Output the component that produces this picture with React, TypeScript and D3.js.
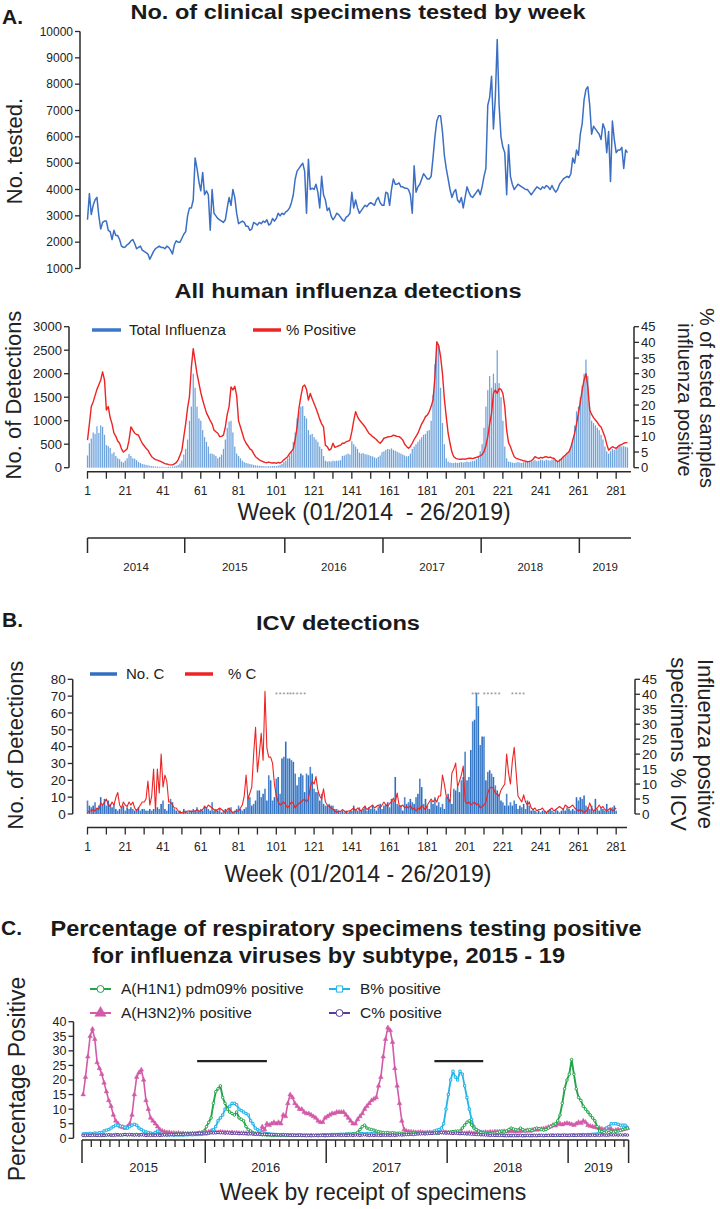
import React from "react";
import * as d3 from "d3";

// ---------- Panel A: No. of clinical specimens tested by week (weeks 1..287) ----------
const tested = [
  2850, 3850, 3050, 3400, 3600, 3700, 3000, 2500, 2750, 2800,
  2800, 2450, 2400, 2100, 2450, 2250, 2250, 2100, 1850, 1800,
  1820, 1900, 1950, 2050, 2100, 1950, 1750, 1800, 1850, 1700,
  1650, 1600, 1550, 1350, 1500, 1650, 1750, 1800, 1850, 1800,
  1800, 1750, 1850, 1800, 1700, 1550, 1900, 2050, 2000, 2000,
  2150, 2300, 2400, 3000, 3300, 3300, 3600, 5200, 4800, 4300,
  3950, 4650, 3800, 3950, 3800, 2450, 4000, 3100, 3000, 2900,
  2850, 2800, 2750, 2850, 3300, 3700, 3400, 4000, 3700, 3100,
  2700, 2750, 2800, 2750, 2600, 2600, 2450, 2500, 2750, 2700,
  2650, 2750, 2700, 2800, 2750, 2850, 2650, 2700, 2900, 2800,
  2900, 3100, 3000, 3100, 3050, 3150, 3200, 3300, 3500, 3800,
  4400, 4700, 4800, 4900, 5000, 4700, 3100, 5150, 4000, 4050,
  4000, 4200, 3900, 3300, 4500, 3800, 3600, 3200, 3300, 3000,
  2850, 2950, 3100, 3050, 2950, 2850, 2800, 2950, 3000, 3100,
  3900, 3300, 3600, 3300, 3100, 3200, 3300, 3400, 3350, 3450,
  3500, 3450, 3400, 3600, 3700, 3500, 3400, 3400, 3900, 3850,
  3400, 4000, 4400, 4200, 4200, 4250, 4100, 4100, 4050, 4050,
  4000, 3800, 3100, 4900, 3900, 4100, 4200, 4400, 4600, 4500,
  4400, 4400, 4500, 5200, 6000, 6600, 6800, 6800, 6200, 5300,
  4800, 4400, 4000, 3700, 3900, 4000, 3600, 3500, 3700, 3300,
  3700, 4100, 3900, 3750, 3700, 3800, 3900, 4000, 3800, 4100,
  4500, 4800, 7200, 7500, 8300, 6300, 7500, 9700, 7200, 6000,
  5600, 5400, 3800, 5700, 4500, 4200, 4000, 4100, 4200, 4150,
  4100, 4050, 4000, 4000, 3900, 3800, 3900, 4000, 4100, 4050,
  4000, 4100, 4050, 4150, 4100, 4000, 4150, 4000, 3900, 4000,
  4200, 4300, 4400, 4450, 4500, 4450, 4600, 5200, 5000, 5500,
  5300, 6100, 6500, 7400, 7800, 7900, 7200, 6100, 6400, 6300,
  6200, 6100, 5900, 6500, 6300, 5400, 6200, 4300, 6600, 5900,
  5400, 5500, 5500, 5600, 4800, 5500, 5400,
];

// ---------- Panel A2: All human influenza detections ----------
const totalInfluenza = [
  260, 520, 620, 750, 720, 880, 740, 900, 870, 700,
  480, 460, 420, 300, 330, 250, 200, 180, 130, 110,
  150, 200, 290, 250, 200, 190, 160, 120, 100, 80,
  70, 60, 50, 40, 35, 30, 25, 25, 20, 20,
  20, 15, 15, 20, 20, 25, 30, 40, 60, 90,
  150, 280, 400, 600, 1000, 1300, 2000, 1700, 1300, 1050,
  1000, 800, 650, 550, 450, 300, 300, 280, 250, 200,
  230, 280, 400, 600, 850, 980, 1000, 750, 450, 300,
  250, 200, 150, 120, 100, 90, 80, 70, 60, 50,
  45, 40, 40, 35, 30, 30, 35, 30, 35, 40,
  35, 45, 60, 80, 120, 150, 200, 260, 350, 550,
  750, 1050, 1200, 1300, 1310, 1100, 1050, 800, 700, 720,
  650, 600, 550, 450, 400, 250, 150, 130, 140, 130,
  150, 140, 150, 150, 160, 250, 260, 280, 300, 280,
  560, 500, 450, 400, 320, 300, 310, 290, 280, 270,
  250, 240, 220, 200, 230, 260, 330, 350, 380, 400,
  390, 410, 380, 360, 340, 320, 300, 280, 260, 240,
  250, 300, 400, 450, 500, 550, 600, 650, 700, 720,
  780, 800, 1000, 1550, 2200, 2650, 2600, 1700, 950, 500,
  200, 130, 110, 100, 100, 110, 100, 110, 120, 110,
  120, 130, 120, 130, 140, 150, 180, 250, 350, 500,
  850, 1300, 1650, 1950, 1700, 2000, 1800, 2500, 1800, 1500,
  1000, 450, 200, 130, 120, 110, 100, 110, 120, 110,
  100, 120, 130, 120, 140, 130, 150, 160, 140, 150,
  170, 160, 150, 170, 160, 150, 170, 180, 160, 140,
  180, 200, 220, 260, 300, 350, 450, 600, 900, 1200,
  1300, 1500, 1750, 2000, 2300, 1950, 1300, 1000, 950, 900,
  850, 800, 700, 600, 450, 350, 300, 350, 400, 380,
  420, 450, 480, 450, 460, 440, 430,
];

const percentPositive = [
  8.8, 14, 19.5, 21, 23, 25, 26.5, 28, 30.6, 28,
  18.4, 19.5, 16, 14, 11, 10, 8.5, 7.8, 6, 5,
  5.5, 6, 8.8, 13, 12, 11, 10.6, 10.4, 9, 7.8,
  7, 6.2, 5.6, 4.5, 3.5, 3, 2.6, 2.4, 2.2, 1.9,
  1.6, 1.3, 1.2, 1, 0.9, 0.9, 1.2, 1.6, 2.5, 4,
  5.6, 9.9, 14, 19, 22.7, 32, 38, 34, 30, 27,
  24, 21.6, 19.5, 17.5, 16.3, 15, 14, 12, 11.5, 11,
  9.9, 10, 10.4, 13, 17, 19.5, 25.8, 24.8, 26, 23,
  15, 13, 11, 9, 7.8, 7, 6, 5.6, 4.5, 3.5,
  3, 2.5, 2.2, 1.9, 1.7, 1.6, 1.8, 1.6, 1.5, 1.6,
  1.4, 1.7, 1.5, 1.9, 2.5, 3, 3.5, 4.5, 5.2, 6,
  9, 13, 19, 22.7, 25.8, 26.4, 25, 21.6, 23.7, 22,
  20.5, 19, 17.3, 15.5, 14, 13, 7.2, 6.7, 5.6, 6,
  7.8, 6.5, 6.7, 7, 7.2, 7.8, 7.8, 8.3, 8.5, 8.8,
  11.5, 15, 17.9, 16.3, 15.2, 14.5, 13.8, 13, 12, 11,
  10.5, 9.9, 9.5, 9, 8.3, 7.8, 8.5, 9.4, 9.6, 9.8,
  9.9, 10, 10.4, 10.2, 10, 9.9, 9.5, 8.8, 7.5, 6.8,
  6.2, 6.8, 7.8, 9, 10, 11, 12.5, 14, 15, 16.3,
  16.8, 17.9, 19.5, 21.6, 29, 40.2, 39, 35.5, 30, 22,
  16.3, 11, 7.8, 5, 3.5, 3, 2.8, 2.7, 2.7, 2.8,
  2.7, 2.9, 3, 3, 2.9, 3.1, 3.3, 3.5, 3.8, 4.2,
  5.1, 7, 9.9, 14, 17.3, 23.7, 24.8, 23.7, 25.3, 25,
  23.7, 19.5, 12, 8, 6.7, 5, 3.5, 3, 2.8, 2.6,
  2.4, 2.2, 2.1, 1.9, 2, 2.2, 2.7, 3.5, 3.2, 3,
  3.3, 3.1, 3.4, 3.5, 3.2, 3.4, 3.1, 3, 2.4, 1.9,
  2.3, 2.8, 3.5, 4, 4.6, 5.1, 6.5, 8.8, 11, 14,
  17.3, 21, 24.8, 28, 30, 25.8, 18.4, 17, 16, 15.2,
  14.5, 13.5, 13, 11.5, 9.9, 7.5, 5.6, 6.2, 6.7, 6.4,
  6.2, 6.8, 7.2, 7.4, 7.8, 8, 8,
];

// ---------- Panel B: ICV detections (weeks 1..281) ----------
const numberC = [
  8, 5, 4, 5, 7, 3, 5, 10, 6, 9,
  5, 8, 6, 4, 6, 3, 2, 3, 4, 5,
  2, 4, 3, 4, 3, 2, 3, 4, 2, 3,
  3, 2, 2, 3, 2, 3, 2, 4, 3, 6,
  8, 3, 2, 6, 9, 7, 3, 2, 1, 2,
  1, 3, 2, 1, 2, 2, 3, 2, 4, 2,
  3, 2, 5, 4, 3, 2, 7, 2, 3, 2,
  3, 1, 2, 3, 2, 3, 4, 1, 2, 3,
  5, 3, 2, 3, 4, 10, 10, 5, 6, 8,
  14, 14, 10, 12, 15, 8, 23, 20, 8, 10,
  21, 22, 12, 33, 34, 43, 33, 33, 32, 31,
  24, 17, 22, 24, 23, 13, 24, 23, 28, 24,
  15, 13, 13, 8, 12, 6, 5, 5, 6, 5,
  5, 3, 3, 2, 1, 2, 1, 2, 1, 2,
  2, 5, 3, 2, 4, 2, 3, 5, 2, 4,
  3, 5, 3, 2, 4, 6, 3, 5, 6, 7,
  4, 9, 8, 22, 6, 5, 5, 2, 10, 6,
  7, 9, 7, 6, 10, 12, 21, 16, 6, 9,
  5, 3, 8, 6, 10, 5, 7, 4, 6, 3,
  10, 12, 9, 6, 15, 14, 16, 13, 20, 22,
  37, 20, 22, 38, 55, 56, 72, 64, 41, 46,
  46, 20, 25, 26, 24, 22, 17, 14, 12, 8,
  7, 5, 12, 5, 7, 5, 8, 6, 3, 5,
  4, 6, 3, 8, 5, 2, 3, 2, 1, 2,
  1, 2, 2, 1, 2, 3, 2, 1, 3, 2,
  1, 2, 3, 2, 4, 3, 2, 3, 2, 10,
  8, 10, 9, 11, 5, 4, 3, 5, 2, 9,
  3, 2, 4, 3, 2, 6, 2, 3, 4, 5,
  2,
];

const percentC = [
  0.5, 1, 1, 1.5, 1, 2, 1.5, 3.7, 3, 4,
  5, 3, 2.5, 4, 3, 5.5, 7.2, 3, 2, 4,
  3, 2.5, 4, 3, 4, 2, 1, 2, 3, 4,
  4, 5, 11, 3, 6, 15, 1, 15, 7, 20,
  9, 13, 11, 4, 4, 3, 2, 2, 1, 0.5,
  0.5, 0.8, 0.5, 1, 1, 0.8, 1, 1, 1.5, 1,
  1, 1.5, 2.5, 2, 3, 2.5, 2, 1.5, 1, 1.5,
  2, 1.5, 1, 0.5, 1.5, 2, 1, 0.5, 0.8, 1,
  1, 2, 3, 6, 13, 5, 7, 9, 20, 29,
  14, 20, 27, 18, 41, 22, 19, 19, 17, 10,
  6, 4, 3, 3.5, 4, 3, 2, 3, 4, 3.5,
  2, 3, 3.5, 4, 4.5, 5, 4, 5, 9, 11,
  10, 12.5, 8, 6, 5, 8.4, 4, 3, 2.5, 2,
  1.5, 1, 0.5, 1, 0.8, 1.5, 1, 0.5, 1, 1,
  1.5, 2, 1, 2, 1.5, 1, 2, 2.5, 1.5, 2,
  2.5, 3, 2, 2.5, 3, 2, 3, 4, 3, 2.5,
  3.5, 4, 5.3, 4, 7, 3, 2.5, 3, 2, 2.5,
  2, 3, 1.5, 2, 1, 2, 1.5, 3, 2, 1.5,
  3, 4, 5, 4, 5, 4, 6, 6, 13, 10,
  6, 5, 4, 13.7, 15, 17, 9, 11, 13, 16,
  4.2, 3.5, 4, 3, 3.5, 4, 3, 3.5, 2, 2.5,
  3, 4, 7, 8.7, 9, 8.5, 7, 6.5, 6, 8,
  9, 10, 20, 13.7, 10, 17.6, 22.3, 14, 6, 5,
  4, 6.4, 4, 3, 4, 2, 1.5, 2, 1, 1.5,
  1.5, 2, 1, 0.5, 1, 1.5, 2, 1, 1.5, 2,
  2.5, 2, 1.5, 3, 2.5, 2, 2.5, 3, 2, 1.5,
  1, 1.5, 1, 0.5, 1, 1.5, 3.7, 2, 1, 1.5,
  2, 3, 2, 2.5, 1.5, 1, 1.5, 2, 1, 1.5,
  2,
];

// weeks flagged with asterisks above the ICV bars
const asteriskWeeks = [101, 103, 105, 107, 108.5, 110, 112, 114, 116, 205, 206.5, 208, 211, 213, 215, 217, 219, 226, 228, 230, 232];
const asteriskLevel = 72; // in "No. of detections" units

// ---------- Panel C: % positive by subtype, 2015-2019 (weeks 1..235) ----------
const h1n1 = [
  1, 1, 1.1, 1, 1.2, 1.1, 1, 1.1, 1, 1.2,
  1.1, 1.2, 1.1, 1.2, 1.3, 1.2, 1.1, 1.2, 1.3, 1.2,
  1.2, 1.3, 1.2, 1.3, 1.2, 1.3, 1.4, 1.3, 1.2, 1.3,
  1.2, 1.3, 1.4, 1.3, 1.2, 1.3, 1.4, 1.3, 1.4, 1.5,
  1.4, 1.5, 1.4, 1.5, 1.6, 1.5, 1.6, 1.7, 1.8, 1.8,
  2, 2, 2.5, 4, 5.5, 7, 12, 16, 17, 18,
  14, 12, 10, 9, 8.5, 8, 9, 7, 6.5, 6,
  4, 3, 2.5, 2, 1.5, 1.4, 1.3, 1.2, 1.2, 1.1,
  1.1, 1, 1, 1.1, 1, 1, 1.1, 1, 1, 1.1,
  1, 1, 1, 1.1, 1, 1, 1.1, 1, 1.1, 1,
  1.1, 1, 1.1, 1.2, 1.1, 1.2, 1.1, 1.2, 1.3, 1.2,
  1.3, 1.2, 1.3, 1.4, 1.3, 1.4, 1.5, 1.6, 2, 3,
  4, 4.5, 3.5, 3.2, 3, 2.8, 2.5, 2.3, 2.1, 2,
  1.9, 2, 1.8, 1.9, 1.8, 1.7, 1.8, 1.7, 1.8, 1.9,
  1.8, 1.9, 1.8, 1.7, 1.8, 1.9, 1.8, 1.7, 1.8, 1.7,
  1.8, 1.9, 1.7, 1.8, 2, 1.9, 2, 2.1, 2.2, 2.3,
  2.4, 2.5, 2.5, 3.5, 4.5, 5.5, 6, 4.5, 3.5, 3,
  2.5, 2, 1.8, 1.6, 1.5, 1.6, 1.7, 1.8, 2, 2.2,
  2.5, 2.2, 2.5, 3, 3.5, 3.2, 3, 2.8, 3.5, 3,
  2.5, 2.8, 3, 2.6, 3.2, 3.5, 3.3, 3, 2.8, 3,
  3.5, 4, 4.5, 5, 6, 8, 12, 17, 20, 22,
  27, 22, 17, 14, 13, 11, 10, 9, 8, 7,
  6, 4, 2.5, 2.3, 2, 2.2, 2, 2.3, 2.1, 2.4,
  2.5, 2.7, 3, 3.2, 3.5,
];

const h3n2 = [
  15, 21, 28, 35, 37.5, 34, 26, 24, 22, 19,
  16, 13, 11, 8, 6, 5, 4, 3.8, 3.5, 4,
  5, 8, 15, 21, 22.5, 23.5, 20, 13, 10, 7,
  6, 5, 4, 3, 2.5, 2.2, 2, 2, 1.8, 1.8,
  1.7, 1.8, 1.6, 1.7, 1.5, 1.6, 1.5, 1.6, 1.5, 1.6,
  1.7, 1.8, 1.9, 2, 2.2, 2.5, 2.3, 2.1, 2, 2.2,
  2.1, 2, 2, 1.9, 2, 1.8, 1.9, 1.8, 1.7, 1.8,
  1.7, 1.6, 1.7, 1.6, 1.5, 1.6, 1.8, 4, 3, 5,
  4.5, 5, 5.5, 5, 5.5, 5, 8, 7.5, 12, 15,
  14, 12, 11, 10, 10, 9, 8.5, 8.5, 8, 7.5,
  7, 6, 5.5, 5.5, 7, 7.5, 8, 8.5, 8.5, 9,
  9, 9, 9, 8, 7, 6, 5, 5, 6.5, 7.5,
  8.5, 10, 11, 12, 13, 13.5, 14, 18, 21, 28,
  34, 38, 37, 33, 24, 18, 12, 6, 3, 2.5,
  2.3, 2.2, 2.1, 2, 2, 2.1, 2, 1.9, 2, 2,
  1.9, 2, 2, 2.1, 2, 2.2, 2, 1.9, 1.8, 1.9,
  2, 1.9, 1.8, 1.8, 1.7, 1.8, 1.9, 1.8, 1.7, 1.8,
  1.9, 2, 2, 2.1, 2, 2.2, 2.1, 2.3, 2.2, 2.3,
  2.2, 2.4, 2.3, 2.5, 2.4, 2.5, 2.3, 2.5, 2.4, 2.6,
  2.5, 2.7, 2.5, 2.8, 3, 2.9, 3, 3.2, 3.3, 3.5,
  3.8, 4, 4.5, 4.3, 4.8, 5, 4.7, 5, 5.2, 5,
  4.8, 4.5, 5, 5.5, 5.2, 6, 5.5, 4.5, 4.2, 4,
  3.8, 3.6, 3.5, 3.2, 3, 3.3, 3.5, 3.2, 2.5, 2.8,
  3, 2.8, 3, 3.2, 3.5,
];

const bPositive = [
  1.5, 1.6, 1.5, 1.7, 1.6, 1.8, 1.7, 1.9, 2, 2.5,
  2.8, 3, 3.5, 4, 4.5, 4.5, 4.2, 4, 3.8, 3.5,
  4, 4.5, 4.8, 4.5, 3.5, 3, 2.5, 2.2, 2, 1.8,
  1.5, 2, 2.5, 1.5, 1.3, 1.2, 1.3, 1.2, 1.2, 1.1,
  1.2, 1.1, 1.2, 1.1, 1.2, 1.2, 1.3, 1.2, 1.3, 1.3,
  1.3, 1.4, 1.5, 1.5, 1.8, 2, 3, 4, 6, 7,
  8, 10, 10.5, 11, 12, 12, 11.5, 10, 9.5, 9,
  8.5, 8, 6, 5, 3.5, 3, 2.5, 2, 1.8, 1.6,
  1.5, 1.4, 1.3, 1.3, 1.2, 1.2, 1.3, 1.2, 1.2, 1.1,
  1.2, 1.1, 1.1, 1.2, 1.1, 1, 1.1, 1, 1.1, 1,
  1, 1.1, 1, 1.1, 1.2, 1.1, 1.2, 1.3, 1.2, 1.3,
  1.3, 1.4, 1.3, 1.4, 1.5, 1.4, 1.5, 1.4, 1.5, 1.6,
  1.6, 1.5, 1.6, 1.5, 1.6, 1.7, 1.6, 1.7, 1.6, 1.5,
  1.5, 1.6, 1.5, 1.4, 1.5, 1.4, 1.5, 1.6, 1.5, 1.6,
  1.6, 1.7, 1.6, 1.7, 1.8, 1.7, 1.8, 1.8, 1.9, 2,
  2, 2.5, 2.8, 3, 3.5, 5, 10, 15, 20, 23,
  21, 20, 23, 22, 18, 14, 10, 6.5, 4, 3,
  2.5, 2.2, 2, 1.7, 1.5, 1.3, 1.2, 1.1, 1.1, 1,
  1, 0.9, 1, 0.9, 0.9, 1, 0.9, 0.9, 1, 0.9,
  0.9, 1, 0.9, 1, 1, 0.9, 1, 1, 0.9, 1,
  1, 1, 1.1, 1, 1.1, 1, 1.1, 1.1, 1, 1.1,
  1.1, 1.2, 1.1, 1.2, 1.2, 1.3, 1.2, 1.3, 1.3, 1.4,
  1.4, 1.5, 1.5, 2, 2.5, 3.5, 4, 5, 5, 5,
  4.8, 4.5, 4.5, 4.5, 3.5,
];

const cPositive = [
  1, 1, 1.1, 1, 1, 1.1, 1, 1, 1.1, 1,
  1.1, 1.2, 1.1, 1, 1.1, 1.2, 1.1, 1.2, 1.3, 1.2,
  1.3, 1.2, 1.1, 1.2, 1.1, 1.2, 1.1, 1, 1.1, 1,
  1.1, 1, 1.1, 1, 1.1, 1.2, 1.1, 1.2, 1.3, 1.2,
  1.3, 1.4, 1.3, 1.4, 1.5, 1.4, 1.5, 1.6, 1.5, 1.6,
  1.7, 1.6, 1.8, 1.7, 1.8, 1.9, 1.8, 1.9, 2, 1.9,
  1.9, 1.8, 1.9, 1.8, 1.7, 1.8, 1.7, 1.6, 1.7, 1.6,
  1.6, 1.5, 1.6, 1.5, 1.4, 1.5, 1.4, 1.3, 1.4, 1.3,
  1.3, 1.2, 1.3, 1.2, 1.2, 1.1, 1.2, 1.1, 1.1, 1,
  1.1, 1, 1, 1.1, 1, 1, 0.9, 1, 0.9, 1,
  1, 0.9, 1, 1, 0.9, 1, 1, 1.1, 1, 1.1,
  1.1, 1, 1.1, 1, 1, 1.1, 1, 1.1, 1.1, 1,
  1.1, 1.2, 1.1, 1, 1.1, 1, 1.1, 1, 1, 1.1,
  1, 1.1, 1, 1.1, 1, 1.1, 1.2, 1.1, 1.2, 1.3,
  1.3, 1.4, 1.3, 1.4, 1.5, 1.5, 1.6, 1.5, 1.6, 1.7,
  1.7, 1.8, 1.9, 1.8, 2, 1.9, 1.8, 1.9, 1.8, 1.7,
  1.8, 1.7, 1.6, 1.7, 1.6, 1.5, 1.5, 1.4, 1.4, 1.3,
  1.3, 1.2, 1.2, 1.1, 1.1, 1, 1.1, 1, 1, 1,
  1, 1, 0.9, 1, 1, 0.9, 1, 1, 1, 0.9,
  1, 1, 1, 0.9, 1, 1, 1, 1, 1, 1,
  1, 1.1, 1, 1, 1.1, 1, 1, 1.1, 1, 1,
  1.1, 1, 1, 1.1, 1, 1.1, 1, 1.1, 1, 1.1,
  1, 1.1, 1, 1.1, 1.1, 1, 1.1, 1.2, 1.1, 1.2,
  1.1, 1.2, 1.1, 1.2, 1.1,
];

// periods marked by black bars in panel C (week ranges, level in %)
const periodBars = [
  { start: 50, end: 80 },
  { start: 152, end: 173 },
];
const periodLevel = 26.5;

// ---------- tick / label data ----------
const testedTicks = [1000, 2000, 3000, 4000, 5000, 6000, 7000, 8000, 9000, 10000];
const detTicks = [0, 500, 1000, 1500, 2000, 2500, 3000];
const pctTicks = [0, 5, 10, 15, 20, 25, 30, 35, 40, 45];
const icvTicks = [0, 10, 20, 30, 40, 50, 60, 70, 80];
const subtypeTicks = [0, 5, 10, 15, 20, 25, 30, 35, 40];
const weekLabels = [1, 21, 41, 61, 81, 101, 121, 141, 161, 181, 201, 221, 241, 261, 281];
const weekMinorTicks = [1, 11, 21, 31, 41, 51, 61, 71, 81, 91, 101, 111, 121, 131, 141, 151, 161, 171, 181, 191, 201, 211, 221, 231, 241, 251, 261, 271, 281];
const yearsTop = ["2014", "2015", "2016", "2017", "2018", "2019"];
const yearStartTop = [1, 53, 106, 158, 210, 262];
const yearsC = ["2015", "2016", "2017", "2018", "2019"];
const yearStartC = [1, 54, 106, 158, 210];
const yearLenC = [53, 52, 52, 52, 26];

const FONT = "'Liberation Sans', Arial, Helvetica, sans-serif";
const AX = "#2a2a2a";
const BLUE_LINE = "#3b6fc4";
const BAR_LIGHT = "#6ea3dc";
const BAR_DARK = "#2f70c2";
const RED = "#ec2424";
const GREEN = "#23a449";
const PINK = "#d35aa8";
const CYAN = "#22b3e8";
const PURPLE = "#5b3c9e";

type Sc = d3.ScaleLinear<number, number>;

function LeftAxis({ scale, ticks, x, fontSize }: { scale: Sc; ticks: number[]; x: number; fontSize: number }) {
  const [a, b] = scale.range();
  return (
    <g>
      <line x1={x} x2={x} y1={a} y2={b} stroke={AX} strokeWidth={1.5} />
      {ticks.map((t) => (
        <g key={t}>
          <line x1={x - 5} x2={x} y1={scale(t)} y2={scale(t)} stroke={AX} strokeWidth={1.3} />
          <text x={x - 7} y={scale(t)} dy="0.35em" textAnchor="end" fontSize={fontSize} fill="#222">
            {t}
          </text>
        </g>
      ))}
    </g>
  );
}

function RightAxis({ scale, ticks, x, fontSize }: { scale: Sc; ticks: number[]; x: number; fontSize: number }) {
  const [a, b] = scale.range();
  return (
    <g>
      <line x1={x} x2={x} y1={a} y2={b} stroke={AX} strokeWidth={1.5} />
      {ticks.map((t) => (
        <g key={t}>
          <line x1={x} x2={x + 5} y1={scale(t)} y2={scale(t)} stroke={AX} strokeWidth={1.3} />
          <text x={x + 7} y={scale(t)} dy="0.35em" textAnchor="start" fontSize={fontSize} fill="#222">
            {t}
          </text>
        </g>
      ))}
    </g>
  );
}

function WeekAxis({ x, y, x0, x1, labelY }: { x: Sc; y: number; x0: number; x1: number; labelY: number }) {
  return (
    <g>
      <line x1={x0} x2={x1} y1={y} y2={y} stroke={AX} strokeWidth={1.6} />
      {weekMinorTicks.map((w) => (
        <line key={w} x1={x(w)} x2={x(w)} y1={y} y2={y + 7} stroke={AX} strokeWidth={1.3} />
      ))}
      {weekLabels.map((w) => (
        <text key={w} x={x(w)} y={labelY} textAnchor="middle" fontSize={12} fill="#222">
          {w}
        </text>
      ))}
    </g>
  );
}

function RotLabel({ x, y, text, size, angle }: { x: number; y: number; text: string; size: number; angle: number }) {
  return (
    <text transform={`translate(${x},${y}) rotate(${angle})`} textAnchor="middle" dy="0.35em" fontSize={size} fill="#222">
      {text}
    </text>
  );
}

function Marker({ type, x, y, color, size }: { type: string; x: number; y: number; color: string; size: number }) {
  const sym = type === "triangle" ? d3.symbolTriangle : type === "square" ? d3.symbolSquare : d3.symbolCircle;
  const p = d3.symbol().type(sym).size(size)() as string;
  const filled = type === "triangle";
  return (
    <path d={p} transform={`translate(${x},${y})`} fill={filled ? color : "#fff"} stroke={color} strokeWidth={filled ? 0.5 : 1} />
  );
}

export default function App() {
  // shared week scale for panels A, A2, B
  const xTop = d3.scaleLinear().domain([1, 287]).range([87.5, 627.5]);

  // Panel A
  const yA = d3.scaleLinear().domain([1000, 10000]).range([268.5, 31.5]);
  const lineA = d3.line<number>().x((_, i) => xTop(i + 1)).y((d) => yA(d));

  // Panel A2
  const yDet = d3.scaleLinear().domain([0, 3000]).range([467.7, 326.7]);
  const yPct = d3.scaleLinear().domain([0, 45]).range([467.7, 326.7]);
  const linePct = d3.line<number>().x((_, i) => xTop(i + 1)).y((d) => yPct(d));

  // Panel B
  const yIcv = d3.scaleLinear().domain([0, 80]).range([814, 679.3]);
  const yIcvPct = d3.scaleLinear().domain([0, 45]).range([814, 679.3]);
  const lineIcv = d3.line<number>().x((_, i) => xTop(i + 1)).y((d) => yIcvPct(d));

  // Panel C
  const xC = d3.scaleLinear().domain([0.5, 235.5]).range([82, 628.6]);
  const yC = d3.scaleLinear().domain([0, 40]).range([1138.3, 1021.7]);
  const lineC = d3.line<number>().x((_, i) => xC(i + 1)).y((d) => yC(d));

  const subtypeSeries = [
    { name: "A(H3N2)% positive", data: h3n2, color: PINK, marker: "triangle", width: 1.6 },
    { name: "B% positive", data: bPositive, color: CYAN, marker: "square", width: 1.8 },
    { name: "A(H1N1) pdm09% positive", data: h1n1, color: GREEN, marker: "circle", width: 1.9 },
    { name: "C% positive", data: cPositive, color: PURPLE, marker: "circle", width: 1.6 },
  ];

  const yearTickYTop = 538;
  const barW = 1.25;

  return (
    <svg
      width={720}
      height={1209}
      style={{ position: "absolute", left: 0, top: 0, background: "#fff" }}
      fontFamily={FONT}
    >
      <rect x={0} y={0} width={720} height={1209} fill="#fff" />

      {/* ================= Panel A ================= */}
      <text x={2} y={24} fontSize={21} fontWeight="bold" fill="#1a1a1a">A.</text>
      <text x={358} y={19} textAnchor="middle" fontSize={20} fontWeight="bold" fill="#1a1a1a" textLength={455} lengthAdjust="spacingAndGlyphs">
        No. of clinical specimens tested by week
      </text>
      <RotLabel x={14} y={151} text="No. tested." size={22} angle={-90} />
      <LeftAxis scale={yA} ticks={testedTicks} x={80} fontSize={12} />
      <path d={lineA(tested) as string} fill="none" stroke={BLUE_LINE} strokeWidth={1.5} strokeLinejoin="round" />

      {/* ================= Panel A2 ================= */}
      <text x={348} y={298} textAnchor="middle" fontSize={20} fontWeight="bold" fill="#1a1a1a" textLength={347} lengthAdjust="spacingAndGlyphs">
        All human influenza detections
      </text>
      <RotLabel x={13} y={395} text="No. of Detections" size={22} angle={-90} />
      <RotLabel x={707} y={398} text="% of tested samples" size={20} angle={90} />
      <RotLabel x={685} y={400} text="influenza positive" size={20} angle={90} />
      <LeftAxis scale={yDet} ticks={detTicks} x={69} fontSize={13} />
      <RightAxis scale={yPct} ticks={pctTicks} x={634} fontSize={13} />
      {totalInfluenza.map((v, i) => (
        <rect key={i} x={xTop(i + 1) - barW / 2} y={yDet(v)} width={barW} height={yDet(0) - yDet(v)} fill={BAR_LIGHT} />
      ))}
      <path d={linePct(percentPositive) as string} fill="none" stroke={RED} strokeWidth={1.4} strokeLinejoin="round" />
      {/* legend */}
      <line x1={92} x2={121} y1={330} y2={330} stroke="#3b78c8" strokeWidth={3.5} />
      <text x={129} y={330} dy="0.35em" fontSize={15} fill="#222">Total Influenza</text>
      <line x1={253} x2={281} y1={330} y2={330} stroke={RED} strokeWidth={3.5} />
      <text x={286} y={330} dy="0.35em" fontSize={15} fill="#222">% Positive</text>
      <WeekAxis x={xTop} y={471.7} x0={87} x1={631} labelY={495} />
      <text x={374} y={520} textAnchor="middle" fontSize={23} fill="#222" style={{ whiteSpace: "pre" }}>
        {"Week (01/2014  - 26/2019)"}
      </text>
      {/* year bracket axis */}
      <line x1={xTop(1)} x2={631} y1={yearTickYTop} y2={yearTickYTop} stroke={AX} strokeWidth={1.6} />
      {yearStartTop.map((w, i) => {
        const xs = i === 0 ? xTop(1) : xTop(w - 0.5);
        const xe = i < yearStartTop.length - 1 ? xTop(yearStartTop[i + 1] - 0.5) : 631;
        return (
          <g key={w}>
            <line x1={xs} x2={xs} y1={yearTickYTop} y2={yearTickYTop + 15} stroke={AX} strokeWidth={1.5} />
            <text x={(xs + xe) / 2} y={571} textAnchor="middle" fontSize={11.5} fill="#222">{yearsTop[i]}</text>
          </g>
        );
      })}

      {/* ================= Panel B ================= */}
      <text x={2} y={627} fontSize={21} fontWeight="bold" fill="#1a1a1a">B.</text>
      <text x={338} y={630} textAnchor="middle" fontSize={20} fontWeight="bold" fill="#1a1a1a" textLength={164} lengthAdjust="spacingAndGlyphs">
        ICV detections
      </text>
      <RotLabel x={15} y={745} text="No. of Detections" size={22} angle={-90} />
      <RotLabel x={706} y={744} text="Influenza positive" size={22} angle={90} />
      <RotLabel x={679} y={744} text="specimens % ICV" size={22} angle={90} />
      <LeftAxis scale={yIcv} ticks={icvTicks} x={72.7} fontSize={13.5} />
      <RightAxis scale={yIcvPct} ticks={pctTicks} x={635} fontSize={13.5} />
      {numberC.map((v, i) => (
        <rect key={i} x={xTop(i + 1) - 0.8} y={yIcv(v)} width={1.6} height={yIcv(0) - yIcv(v)} fill={i % 2 ? BAR_DARK : "#4a86cc"} />
      ))}
      <path d={lineIcv(percentC) as string} fill="none" stroke={RED} strokeWidth={1.1} strokeLinejoin="round" />
      {asteriskWeeks.map((w, i) => (
        <text key={i} x={xTop(w)} y={yIcv(asteriskLevel) + 4} textAnchor="middle" fontSize={7} fill="#888">*</text>
      ))}
      <line x1={90} x2={117} y1={674} y2={674} stroke={BAR_DARK} strokeWidth={3.5} />
      <text x={126} y={674} dy="0.35em" fontSize={15} fill="#222">No. C</text>
      <line x1={185} x2={213} y1={674} y2={674} stroke={RED} strokeWidth={3.5} />
      <text x={228} y={674} dy="0.35em" fontSize={15} fill="#222">% C</text>
      <WeekAxis x={xTop} y={827.5} x0={87} x1={627} labelY={851} />
      <text x={358} y={882} textAnchor="middle" fontSize={23} fill="#222">Week (01/2014 - 26/2019)</text>

      {/* ================= Panel C ================= */}
      <text x={1} y={935} fontSize={21} fontWeight="bold" fill="#1a1a1a">C.</text>
      <text x={346} y={936} textAnchor="middle" fontSize={22} fontWeight="bold" fill="#1a1a1a" textLength={591} lengthAdjust="spacingAndGlyphs">
        Percentage of respiratory specimens testing positive
      </text>
      <text x={328.5} y={963} textAnchor="middle" fontSize={22} fontWeight="bold" fill="#1a1a1a" textLength={473} lengthAdjust="spacingAndGlyphs">
        for influenza viruses by subtype, 2015 - 19
      </text>
      {/* legend */}
      {[
        { s: subtypeSeries[2], x: 90, y: 989, tx: 121 },
        { s: subtypeSeries[1], x: 329, y: 989, tx: 360 },
        { s: subtypeSeries[0], x: 90, y: 1013, tx: 121 },
        { s: subtypeSeries[3], x: 329, y: 1013, tx: 360 },
      ].map(({ s, x, y, tx }) => (
        <g key={s.name}>
          <line x1={x} x2={x + 21} y1={y} y2={y} stroke={s.color} strokeWidth={2} />
          <Marker type={s.marker} x={x + 10.5} y={y} color={s.color} size={s.marker === "triangle" ? 55 : 38} />
          <text x={tx} y={y} dy="0.35em" fontSize={15.5} fill="#222">{s.name}</text>
        </g>
      ))}
      <RotLabel x={17} y={1079} text="Percentage Positive" size={23} angle={-90} />
      <LeftAxis scale={yC} ticks={subtypeTicks} x={73.5} fontSize={12.5} />
      {subtypeSeries.map((s) => (
        <g key={s.name}>
          <path d={lineC(s.data) as string} fill="none" stroke={s.color} strokeWidth={s.width} strokeLinejoin="round" />
          {s.data.map((v, i) => (
            <Marker key={i} type={s.marker} x={xC(i + 1)} y={yC(v)} color={s.color} size={s.marker === "triangle" ? 9 : 5} />
          ))}
        </g>
      ))}
      {periodBars.map((p, i) => (
        <line key={i} x1={xC(p.start)} x2={xC(p.end)} y1={yC(periodLevel)} y2={yC(periodLevel)} stroke="#222" strokeWidth={2.2} />
      ))}
      {/* x axis with years */}
      <line x1={xC(0.5)} x2={xC(235.5)} y1={1140} y2={1140} stroke={AX} strokeWidth={1.6} />
      {yearStartC.map((w, i) => {
        const xs = xC(w - 0.5);
        const xe = xC(w - 0.5 + yearLenC[i]);
        const minors = d3.range(4, yearLenC[i] - 1, 4);
        return (
          <g key={w}>
            <line x1={xs} x2={xs} y1={1140} y2={1163} stroke={AX} strokeWidth={1.5} />
            {minors.map((m) => (
              <line key={m} x1={xC(w - 0.5 + m)} x2={xC(w - 0.5 + m)} y1={1140} y2={1147} stroke={AX} strokeWidth={1.3} />
            ))}
            <text x={(xs + xe) / 2} y={1172} textAnchor="middle" fontSize={13} fill="#222">{yearsC[i]}</text>
          </g>
        );
      })}
      <line x1={xC(235.5)} x2={xC(235.5)} y1={1140} y2={1163} stroke={AX} strokeWidth={1.5} />
      <text x={373} y={1200} textAnchor="middle" fontSize={23} fill="#222">Week by receipt of specimens</text>
    </svg>
  );
}
